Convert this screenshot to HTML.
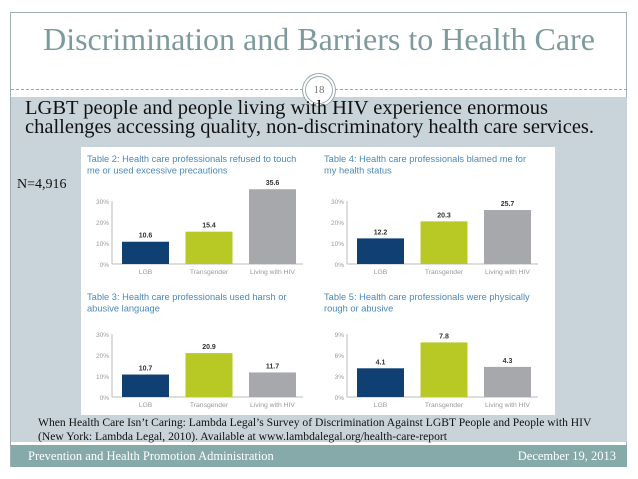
<!DOCTYPE html>
<html><head><meta charset="utf-8"><style>
body{margin:0;width:638px;height:479px;background:#fff;position:relative;overflow:hidden;font-family:"Liberation Serif",serif}
.abs{position:absolute}
</style></head><body>
<div class="abs" style="left:10px;top:12px;width:617px;height:455px;border:1px solid #9fb0b5;box-sizing:border-box"></div>
<div class="abs" style="left:10px;top:21px;width:618px;text-align:center;font-size:32px;color:#7d9a9c;font-family:'Liberation Serif',serif">Discrimination and Barriers to Health Care</div>
<div class="abs" style="left:11px;top:89px;width:616px;border-top:1px dashed #9aa8ac"></div>
<div class="abs" style="left:11px;top:97px;width:616px;height:345px;background:#c9d4da"></div>
<div class="abs" style="left:305px;top:76px;width:28px;height:28px;border-radius:50%;background:#fff;border:1px solid #9aa8ac;box-sizing:border-box;font-size:11px;color:#777;text-align:center;line-height:26px;box-shadow:0 0 0 2px #fff,0 0 0 3px #9aa8ac">18</div>
<div class="abs" style="left:25px;top:99px;font-size:20.5px;line-height:18.5px;color:#111;white-space:nowrap;font-family:'Liberation Serif',serif">LGBT people and people living with HIV experience enormous<br>challenges accessing quality, non-discriminatory health care services.</div>
<div class="abs" style="left:17px;top:177px;font-size:14px;color:#111">N=4,916</div>
<svg class="abs" style="left:0;top:0" width="638" height="479" id="svg"></svg>
<div class="abs" style="left:38px;top:416px;font-size:11.6px;line-height:14px;color:#111;white-space:nowrap">When Health Care Isn’t Caring: Lambda Legal’s Survey of Discrimination Against LGBT People and People with HIV<br>(New York: Lambda Legal, 2010). Available at www.lambdalegal.org/health-care-report</div>
<div class="abs" style="left:11px;top:445px;width:616px;height:22px;background:#86a9a9"></div>
<div class="abs" style="left:28px;top:449px;font-size:12.5px;color:#fff">Prevention and Health Promotion Administration</div>
<div class="abs" style="right:22px;top:449px;font-size:12.5px;color:#fff">December 19, 2013</div>
<script>
const categories=["LGB","Transgender","Living with HIV"];
const titles=[["Table 2: Health care professionals refused to touch","me or used excessive precautions"],["Table 4: Health care professionals blamed me for","my health status"],["Table 3: Health care professionals used harsh or","abusive language"],["Table 5: Health care professionals were physically","rough or abusive"]];
const values2=[10.6,15.4,35.6];
const values4=[12.2,20.3,25.7];
const values3=[10.7,20.9,11.7];
const values5=[4.1,7.8,4.3];
const ticks30=[0,10,20,30];
const ticks9=[0,3,6,9];
const colors=["#0f3f73","#b8c824","#a6a8ab"];
const NS="http://www.w3.org/2000/svg";
const svg=document.getElementById('svg');
function mk(t,a,txt){const e=document.createElementNS(NS,t);for(const k in a)e.setAttribute(k,a[k]);if(txt!==undefined)e.textContent=txt;svg.appendChild(e);return e;}
const bg=mk('rect',{x:81,y:147,width:474,height:268,fill:'#fff'});


const panels=[{vals:values2,ticks:ticks30,max:30,ax:112,base:264,tx:87,ty:162,t:titles[0],n:'table2'},
{vals:values4,ticks:ticks30,max:30,ax:347,base:264,tx:324,ty:162,t:titles[1],n:'table4'},
{vals:values3,ticks:ticks30,max:30,ax:112,base:397,tx:87,ty:300,t:titles[2],n:'table3'},
{vals:values5,ticks:ticks9,max:9,ax:347,base:397,tx:324,ty:300,t:titles[3],n:'table5'}];
panels.forEach(p=>{
 const h=63;const y=v=>p.base-v/p.max*h;
 p.t.forEach((l,i)=>{const e=mk('text',{x:p.tx,y:p.ty+i*11.5,'font-family':'Liberation Sans, sans-serif','font-size':'9.3',fill:'#4a89b8'},l);
 
 });
 p.ticks.forEach(t=>{const e=mk('text',{x:p.ax-3,y:y(t)+3,'text-anchor':'end','font-family':'Liberation Sans, sans-serif','font-size':'6.5',fill:'#999'},t+'%');
 
 });
 const ax=mk('line',{x1:p.ax,y1:y(p.max),x2:p.ax,y2:p.base,stroke:'#bbb','stroke-width':1});
 
 
 const bl=mk('line',{x1:p.ax,y1:p.base,x2:p.ax+191,y2:p.base,stroke:'#bbb','stroke-width':1});
 
 
 p.vals.forEach((v,i)=>{const bx=p.ax+10+i*63.5;
  const r=mk('rect',{x:bx,y:y(v),width:47,height:p.base-y(v),fill:colors[i]});
  
  
  const l=mk('text',{x:bx+23.5,y:y(v)-4,'text-anchor':'middle','font-family':'Liberation Sans, sans-serif','font-size':'7','font-weight':'bold',fill:'#333'},v.toFixed(1));
  
  
  const c=mk('text',{x:bx+23.5,y:p.base+10,'text-anchor':'middle','font-family':'Liberation Sans, sans-serif','font-size':'6.8',fill:'#999'},categories[i]);
  
  
 });
});
</script>
</body></html>
